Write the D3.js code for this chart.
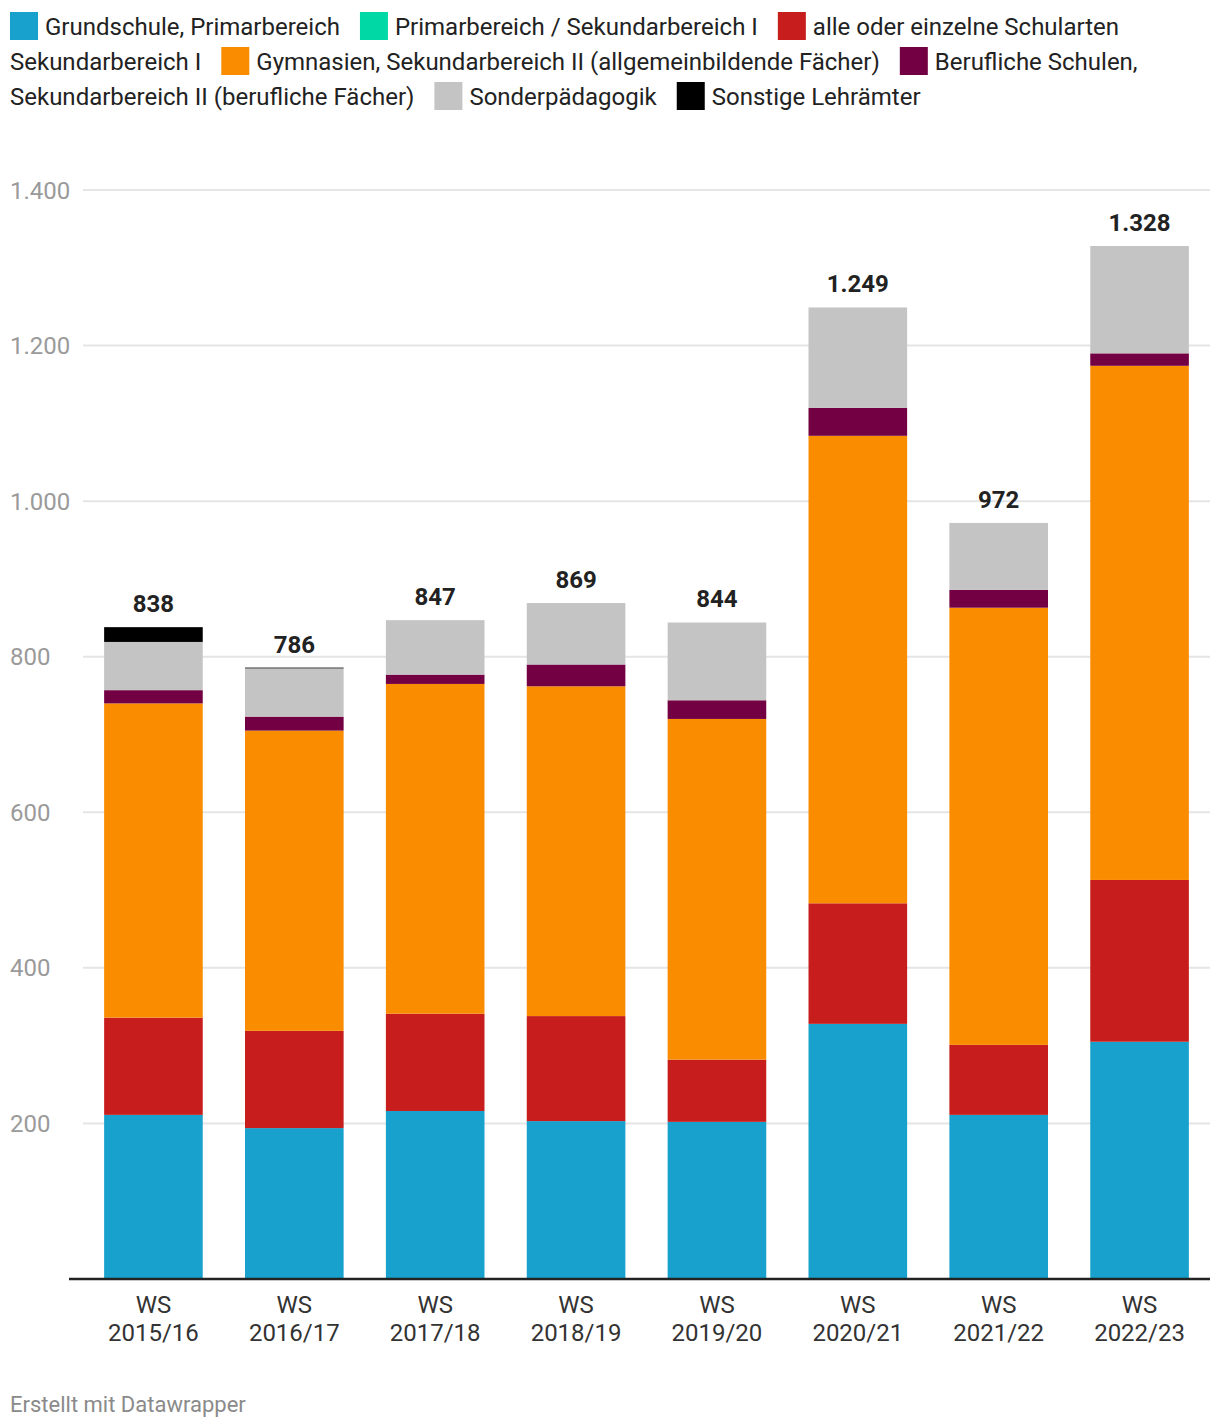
<!DOCTYPE html>
<html>
<head>
<meta charset="utf-8">
<script src="https://cdn.jsdelivr.net/npm/d3@7"></script>
<style>
  html, body { margin: 0; padding: 0; background: #fff; }
  body { width: 1220px; height: 1428px; font-family: Roboto, "Noto Sans", sans-serif; }
  svg { display: block; font-family: Roboto, "Noto Sans", sans-serif; }
</style>
</head>
<body>
<svg id="chart" width="1220" height="1428"></svg>
<script>
const categories = ["WS 2015/16", "WS 2016/17", "WS 2017/18", "WS 2018/19", "WS 2019/20", "WS 2020/21", "WS 2021/22", "WS 2022/23"];
const seriesNames = [
  "Grundschule, Primarbereich",
  "Primarbereich / Sekundarbereich I",
  "alle oder einzelne Schularten Sekundarbereich I",
  "Gymnasien, Sekundarbereich II (allgemeinbildende Fächer)",
  "Berufliche Schulen, Sekundarbereich II (berufliche Fächer)",
  "Sonderpädagogik",
  "Sonstige Lehrämter"
];
const grundschule   = [211, 194, 216, 203, 202, 328, 211, 305];
const primSek       = [0, 0, 0, 0, 0, 0, 0, 0];
const alleSchularten= [125, 125, 125, 135, 80, 155, 90, 208];
const gymnasien     = [404, 386, 424, 424, 438, 601, 562, 661];
const beruflich     = [17, 18, 12, 28, 24, 36, 23, 16];
const sonder        = [62, 62, 70, 79, 100, 129, 86, 138];
const sonstige      = [19, 1, 0, 0, 0, 0, 0, 0];
const totals        = [838, 786, 847, 869, 844, 1249, 972, 1328];
const yTicks        = [200, 400, 600, 800, 1000, 1200, 1400];
const colors = ["#18a1cd", "#00d9a5", "#c71e1d", "#fa8c00", "#730042", "#c4c4c4", "#000000"];

const seriesValues = [grundschule, primSek, alleSchularten, gymnasien, beruflich, sonder, sonstige];
const keys = seriesNames;
const rows = categories.map((c, i) => {
  const r = { cat: c };
  keys.forEach((k, j) => r[k] = seriesValues[j][i]);
  return r;
});

const svg = d3.select("#chart");

// ---- Legend (flowing, wrapped manually) ----
const lg = svg.append("g").attr("class", "legend");
const legendFont = 24, lineH = 35, left = 10, right = 1212, sw = 28, swGap = 7, itemGap = 20;
const firstCenter = 26;
const measure = lg.append("text").attr("font-size", legendFont).attr("visibility", "hidden");
const textW = s => { measure.text(s); return measure.node().getComputedTextLength(); };
const spaceW = textW("a a") - textW("aa");
let cx = left, line = 0;
seriesNames.forEach((name, i) => {
  if (cx + sw + swGap + textW(name.split(" ")[0]) > right) { line++; cx = left; }
  const cy = firstCenter + line * lineH;
  lg.append("rect").attr("x", cx).attr("y", cy - 14).attr("width", sw).attr("height", sw).attr("fill", colors[i]);
  cx += sw + swGap;
  const words = name.split(" ");
  let seg = [], segX = cx;
  const flush = () => {
    if (seg.length) {
      lg.append("text").attr("x", segX).attr("y", firstCenter + line * lineH + 8.5)
        .attr("font-size", legendFont).attr("fill", "#222").text(seg.join(" "));
    }
  };
  words.forEach(w => {
    const cand = seg.length ? seg.concat([w]).join(" ") : w;
    if (segX + textW(cand) > right && seg.length) {
      flush();
      line++; segX = left; seg = [w];
    } else {
      seg.push(w);
    }
  });
  flush();
  cx = segX + textW(seg.join(" ")) + itemGap;
});
measure.remove();

// ---- Chart ----
const x = d3.scaleBand().domain(categories).range([83, 1210]).paddingInner(0.3).paddingOuter(0.15);
const y = d3.scaleLinear().domain([0, 1400]).range([1279, 190]);

// gridlines
svg.append("g").selectAll("line").data(yTicks).join("line")
  .attr("x1", 83).attr("x2", 1210)
  .attr("y1", d => y(d)).attr("y2", d => y(d))
  .attr("stroke", "#e5e5e5").attr("stroke-width", 2);

// y tick labels
const fmt = d3.formatLocale({ decimal: ",", thousands: ".", grouping: [3], currency: ["", "€"] }).format(",");
svg.append("g").selectAll("text").data(yTicks).join("text")
  .attr("x", 10).attr("y", d => y(d) + 8.5)
  .attr("fill", "#9a9a9a").attr("font-size", 24)
  .text(d => fmt(d));

// stacks
const stack = d3.stack().keys(keys)(rows);
svg.append("g").selectAll("g").data(stack).join("g")
  .attr("fill", (d, i) => colors[i])
  .selectAll("rect").data(d => d).join("rect")
  .attr("x", d => x(d.data.cat))
  .attr("width", x.bandwidth())
  .attr("y", d => y(d[1]))
  .attr("height", d => Math.max(0, y(d[0]) - y(d[1])));

// baseline
svg.append("line").attr("x1", 69).attr("x2", 1210).attr("y1", y(0)).attr("y2", y(0))
  .attr("stroke", "#222").attr("stroke-width", 2.5);

// totals
svg.append("g").selectAll("text").data(categories).join("text")
  .attr("x", d => x(d) + x.bandwidth() / 2)
  .attr("y", (d, i) => y(totals[i]) - 15)
  .attr("text-anchor", "middle").attr("font-size", 24).attr("font-weight", "bold").attr("fill", "#222")
  .text((d, i) => fmt(totals[i]));

// x axis labels
const xl = svg.append("g").selectAll("text").data(categories).join("text")
  .attr("x", d => x(d) + x.bandwidth() / 2)
  .attr("y", 1313)
  .attr("text-anchor", "middle").attr("font-size", 24).attr("fill", "#333");
xl.each(function (d) {
  const parts = d.split(" ");
  const t = d3.select(this);
  t.append("tspan").attr("x", x(d) + x.bandwidth() / 2).attr("dy", 0).text(parts[0]);
  t.append("tspan").attr("x", x(d) + x.bandwidth() / 2).attr("dy", 28).text(parts[1]);
});

// footer
svg.append("text").attr("x", 10).attr("y", 1412).attr("font-size", 22).attr("fill", "#8a8a8a")
  .text("Erstellt mit Datawrapper");
</script>
</body>
</html>
